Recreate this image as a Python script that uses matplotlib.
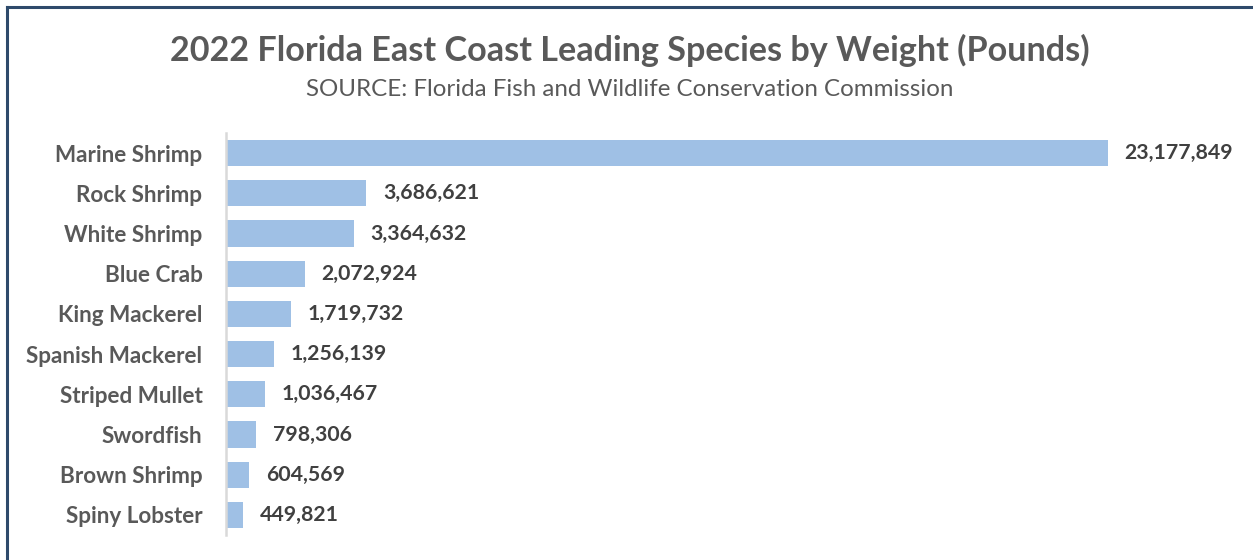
import matplotlib
matplotlib.use("Agg")
import matplotlib.pyplot as plt
from matplotlib.lines import Line2D

species = ["Marine Shrimp", "Rock Shrimp", "White Shrimp", "Blue Crab", "King Mackerel",
           "Spanish Mackerel", "Striped Mullet", "Swordfish", "Brown Shrimp", "Spiny Lobster"]
pounds = [23177849, 3686621, 3364632, 2072924, 1719732,
          1256139, 1036467, 798306, 604569, 449821]

title = "2022 Florida East Coast Leading Species by Weight (Pounds)"
subtitle = "SOURCE: Florida Fish and Wildlife Conservation Commission"

plt.rcParams['font.family'] = ['Lato', 'DejaVu Sans']

W, H = 1253, 560
fig = plt.figure(figsize=(W / 100, H / 100), dpi=100)
fig.patch.set_facecolor("white")

ax = fig.add_axes([226 / W, (H - 535) / H, (1240 - 226) / W, (535 - 133) / H])
pos = list(range(len(species)))
ax.barh(pos, pounds, height=0.65, color="#9FC0E5", edgecolor="none")
ax.set_ylim(len(species) - 0.5, -0.5)
ax.set_xlim(0, pounds[0] * (1240 - 226) / (1108 - 226))
ax.set_yticks(pos)
ax.set_yticklabels(species, fontsize=16.2, fontweight="bold", color="#595959")
ax.tick_params(axis="y", length=0, pad=17)
ax.set_xticks([])
for s in ["top", "right", "bottom"]:
    ax.spines[s].set_visible(False)
ax.spines["left"].set_color("#D9D9D9")
ax.spines["left"].set_linewidth(1.8)

for p, v in zip(pos, pounds):
    ax.annotate(f"{v:,}", xy=(v, p), xytext=(12, 0), textcoords="offset points",
                va="center", ha="left", fontsize=15.3, fontweight="bold", color="#404040")

fig.text(630 / W, 1 - 50 / H, title, ha="center", va="center",
         fontsize=24.6, fontweight="bold", color="#595959")
fig.text(630 / W, 1 - 89 / H, subtitle, ha="center", va="center",
         fontsize=17.4, color="#595959")

# frame lines (left and top)
fig.add_artist(Line2D([7 / W, 7 / W], [0, 1 - 7 / H], transform=fig.transFigure,
                      color="#2E4A6B", linewidth=2.2))
fig.add_artist(Line2D([7 / W, 1], [1 - 7 / H, 1 - 7 / H], transform=fig.transFigure,
                      color="#2E4A6B", linewidth=2.2))

fig.savefig("out.png", dpi=100, facecolor="white")
